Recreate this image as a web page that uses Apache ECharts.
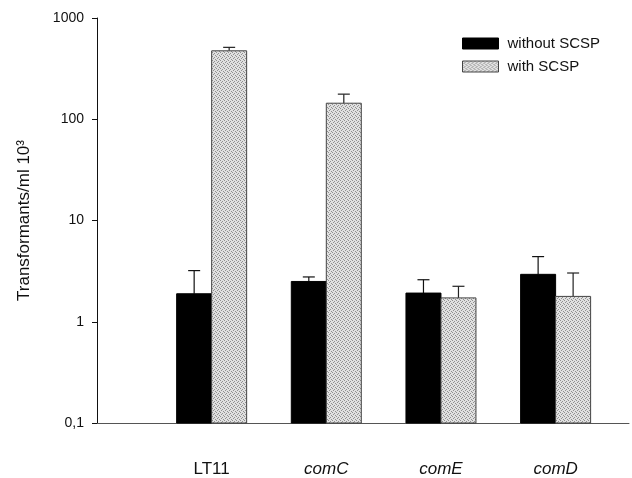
<!DOCTYPE html>
<html>
<head>
<meta charset="utf-8">
<script src="https://cdn.jsdelivr.net/npm/echarts@6/dist/echarts.min.js"></script>
<style>
  html, body { margin: 0; padding: 0; background: #fff; }
  #chart { width: 632px; height: 478px; }
</style>
</head>
<body>
<div id="chart"></div>
<script>
// data
const strains = ['LT11', 'comC', 'comE', 'comD'];
const withoutSCSP = [1.89, 2.5, 1.92, 2.94];
const withoutSCSPErr = [3.2, 2.77, 2.6, 4.4];   // top of error bar
const withSCSP = [474, 144, 1.72, 1.78];
const withSCSPErr = [513, 177, 2.24, 3.03];
const yTicks = ['0,1', '1', '10', '100', '1000'];

// dotted grey fill like the scanned print
function makePattern() {
  const c = document.createElement('canvas');
  c.width = 4; c.height = 4;
  const ctx = c.getContext('2d');
  ctx.fillStyle = '#e0e0e0';
  ctx.fillRect(0, 0, 4, 4);
  ctx.fillStyle = '#909090';
  [[0, 0], [2, 1], [1, 2], [3, 3]].forEach(p => ctx.fillRect(p[0], p[1], 1, 1));
  return c;
}
const greyFill = { image: makePattern(), repeat: 'repeat' };

const chart = echarts.init(document.getElementById('chart'));

const BAR_W = 35;

function barRenderer(offset, fill, stroke) {
  return function (params, api) {
    const x = api.value(0);
    const top = api.coord([x, api.value(1)]);
    const base = api.coord([x, 0.1]);
    return {
      type: 'rect',
      shape: { x: top[0] + offset, y: top[1], width: BAR_W, height: base[1] - top[1] },
      style: { fill: fill, stroke: stroke, lineWidth: 1 }
    };
  };
}

function errRenderer(offset, color) {
  return function (params, api) {
    const x = api.value(0);
    const top = api.coord([x, api.value(1)]);
    const err = api.coord([x, api.value(2)]);
    const cx = top[0] + offset + BAR_W / 2;
    return {
      type: 'group',
      children: [
        { type: 'line', shape: { x1: cx, y1: top[1], x2: cx, y2: err[1] }, style: { stroke: color, lineWidth: 1.2 } },
        { type: 'line', shape: { x1: cx - 6, y1: err[1], x2: cx + 6, y2: err[1] }, style: { stroke: color, lineWidth: 1.2 } }
      ]
    };
  };
}

const dataWithout = strains.map((s, i) => [i + 1, withoutSCSP[i], withoutSCSPErr[i]]);
const dataWith = strains.map((s, i) => [i + 1, withSCSP[i], withSCSPErr[i]]);

const option = {
  animation: false,
  textStyle: { fontFamily: 'Liberation Sans, Arial, sans-serif' },
  grid: { left: 97, right: 0, top: 18, bottom: 55 },
  legend: {
    left: 457,
    top: 31,
    orient: 'vertical',
    itemWidth: 36,
    itemHeight: 11,
    itemGap: 8,
    textStyle: { fontSize: 15, color: '#111', padding: [0, 0, 0, 4] },
    data: [
      { name: 'without SCSP', icon: 'rect', itemStyle: { color: '#000', borderColor: '#000', borderWidth: 1 } },
      { name: 'with SCSP', icon: 'rect', itemStyle: { color: greyFill, borderColor: '#444', borderWidth: 1 } }
    ]
  },
  xAxis: {
    type: 'value',
    min: 0,
    max: 4.64,
    interval: 1,
    splitLine: { show: false },
    axisTick: { show: false },
    axisLine: { lineStyle: { color: '#555', width: 1 } },
    axisLabel: {
      margin: 38,
      color: '#111',
      formatter: v => {
        const s = strains[v - 1];
        if (!s) return '';
        return s === 'LT11' ? '{n|' + s + '}' : '{i|' + s + '}';
      },
      rich: {
        n: { fontSize: 17, color: '#111' },
        i: { fontSize: 17, color: '#111', fontStyle: 'italic' }
      }
    }
  },
  yAxis: {
    type: 'log',
    logBase: 10,
    min: 0.1,
    max: 1000,
    name: 'Transformants/ml 10³',
    nameLocation: 'middle',
    nameRotate: 90,
    nameGap: 64,
    nameTextStyle: { fontSize: 17, color: '#111' },
    splitLine: { show: false },
    axisLine: { show: true, lineStyle: { color: '#111', width: 1 } },
    axisTick: { show: true, inside: false, length: 5, lineStyle: { color: '#111' } },
    axisLabel: {
      fontSize: 14,
      color: '#111',
      margin: 13,
      formatter: v => {
        const idx = Math.round(Math.log10(v)) + 1;
        return yTicks[idx] !== undefined ? yTicks[idx] : '';
      }
    }
  },
  series: [
    {
      name: 'without SCSP',
      type: 'custom',
      renderItem: barRenderer(-BAR_W, '#000', '#000'),
      itemStyle: { color: '#000' },
      encode: { x: 0, y: 1 },
      data: dataWithout,
      z: 2
    },
    {
      name: 'with SCSP',
      type: 'custom',
      renderItem: barRenderer(0, greyFill, '#444'),
      itemStyle: { color: greyFill },
      encode: { x: 0, y: 1 },
      data: dataWith,
      z: 2
    },
    {
      name: 'without SCSP',
      type: 'custom',
      renderItem: errRenderer(-BAR_W, '#111'),
      encode: { x: 0, y: 2 },
      data: dataWithout,
      z: 1
    },
    {
      name: 'with SCSP',
      type: 'custom',
      renderItem: errRenderer(0, '#222'),
      encode: { x: 0, y: 2 },
      data: dataWith,
      z: 1
    }
  ]
};

chart.setOption(option);
</script>
</body>
</html>
